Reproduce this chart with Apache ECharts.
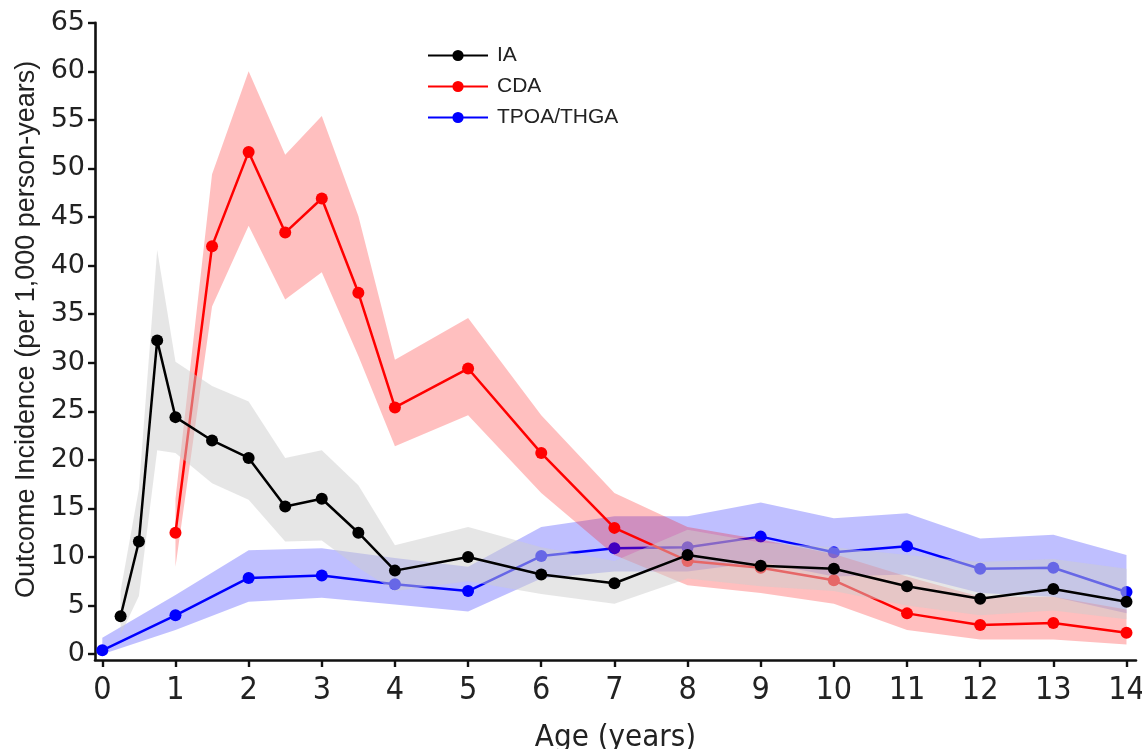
<!DOCTYPE html>
<html><head><meta charset="utf-8">
<script src="https://cdn.jsdelivr.net/npm/echarts@6/dist/echarts.min.js"></script>
<style>html,body{margin:0;padding:0;background:#fff}#c{width:1142px;height:749px}</style>
</head><body><div id="c"></div>
<script>
// ---- data ----
const iaAge  = [0.25,0.5,0.75,1,1.5,2,2.5,3,3.5,4,5,6,7,8,9,10,11,12,13,14];
const iaVal  = [3.9,11.6,32.3,24.4,22.0,20.2,15.2,16.0,12.5,8.6,10.0,8.2,7.3,10.2,9.1,8.8,7.0,5.7,6.7,5.4];
const iaLow  = [2.0,6.0,21.0,20.7,17.6,15.9,11.6,11.7,8.9,6.5,7.5,6.2,5.2,7.8,7.0,6.5,5.0,4.0,4.5,3.6];
const iaHigh = [6.5,17.0,41.6,30.1,27.6,26.0,20.2,21.0,17.4,11.2,13.1,11.0,9.6,12.8,11.5,11.0,10.2,9.5,9.8,8.8];

const cdaAge  = [1,1.5,2,2.5,3,3.5,4,5,6,7,8,9,10,11,12,13,14];
const cdaVal  = [12.5,42.0,51.7,43.4,46.9,37.2,25.4,29.4,20.7,13.0,9.6,8.9,7.6,4.2,3.0,3.2,2.2];
const cdaLow  = [9.0,35.8,44.1,36.5,39.3,30.7,21.4,24.6,16.6,10.2,7.1,6.3,5.2,2.5,1.5,1.5,1.0];
const cdaHigh = [16.0,49.4,60.0,51.4,55.4,45.1,30.3,34.6,24.6,16.6,13.1,11.8,10.3,8.0,5.9,5.9,4.6];

const tpAge  = [0,1,2,3,4,5,6,7,8,9,10,11,12,13,14];
const tpVal  = [0.4,4.0,7.85,8.1,7.2,6.5,10.1,10.9,11.0,12.1,10.5,11.1,8.8,8.9,6.4];
const tpLow  = [0.0,2.5,5.4,5.8,5.1,4.4,7.8,8.5,8.5,9.5,8.0,8.2,6.3,5.9,4.2];
const tpHigh = [1.7,6.1,10.7,10.9,9.9,9.0,13.1,14.2,14.2,15.6,14.0,14.5,11.9,12.3,10.2];

const xTicks = [0,1,2,3,4,5,6,7,8,9,10,11,12,13,14];
const yTicks = [0,5,10,15,20,25,30,35,40,45,50,55,60,65];
const seriesNames = ['IA','CDA','TPOA/THGA'];

// ---- helpers ----
function pts(xs, ys){ return xs.map((x,i)=>[x, ys[i]]); }
function bandData(xs, lo, hi){ return xs.map((x,i)=>[x, lo[i], hi[i]]); }
function band(name, xs, lo, hi, color, z){
  return {
    type:'custom', name:name, z:z, silent:true,
    data: bandData(xs, lo, hi),
    encode:{x:0, y:[1,2]},
    renderItem:function(params, api){
      if (params.dataIndex !== 0) return null;
      const upper = xs.map((x,i)=>api.coord([x, hi[i]]));
      const lower = xs.map((x,i)=>api.coord([x, lo[i]])).reverse();
      return {type:'polygon', shape:{points: upper.concat(lower)}, style:{fill:color}};
    }
  };
}
function line(name, xs, ys, color, z){
  return {
    type:'line', name:name, z:z, data: pts(xs, ys),
    symbol:'circle', symbolSize:12, showSymbol:true,
    lineStyle:{color:color, width:2.5},
    itemStyle:{color:color, borderWidth:0},
    emphasis:{disabled:true}, animation:false
  };
}

const axisFont = "'Liberation Sans', Arial, sans-serif";
const wideFont = "'DejaVu Sans', 'Liberation Sans', sans-serif";
const narrowFont = "'Liberation Sans Narrow', 'DejaVu Sans Condensed', 'Liberation Sans', sans-serif";

const chart = echarts.init(document.getElementById('c'), null, {renderer:'canvas'});
chart.setOption({
  animation:false,
  backgroundColor:'#ffffff',
  grid:{left:95, right:6, top:22.7, bottom:89, containLabel:false, outerBoundsMode:'none'},
  legend:{
    data: seriesNames, orient:'vertical', left:422, top:39,
    itemWidth:60, itemHeight:14, itemGap:8,
    textStyle:{fontFamily:axisFont, fontSize:21, color:'#222', padding:[0,0,0,4], lineHeight:23},
    selectedMode:false
  },
  xAxis:{
    type:'value', min:-0.1, max:14.13,
    name:'Age (years)', nameLocation:'middle', nameGap:62,
    nameTextStyle:{fontFamily:narrowFont, fontSize:31, color:'#222'},
    axisLine:{show:true, onZero:false, lineStyle:{color:'#111', width:2.6}},
    axisTick:{show:true, customValues:xTicks, length:7, lineStyle:{color:'#111', width:2.4}},
    axisLabel:{customValues:xTicks, margin:15, fontFamily:narrowFont, fontSize:32, color:'#222'},
    splitLine:{show:false}
  },
  yAxis:{
    type:'value', min:-0.6, max:65,
    name:'Outcome Incidence (per 1,000 person-years)', nameLocation:'middle', nameGap:54, nameRotate:90,
    nameTextStyle:{fontFamily:axisFont, fontSize:27, color:'#222', padding:[0,0,0,24]},
    axisLine:{show:true, onZero:false, lineStyle:{color:'#111', width:2.6}},
    axisTick:{show:true, customValues:yTicks, length:7, lineStyle:{color:'#111', width:2.4}},
    axisLabel:{customValues:yTicks, margin:10, fontFamily:wideFont, fontSize:27, color:'#222'},
    splitLine:{show:false}
  },
  series:[
    band('tpBand', tpAge, tpLow, tpHigh, 'rgba(0,0,255,0.25)', 1),
    line('TPOA/THGA', tpAge, tpVal, '#0000ff', 2),
    band('cdaBand', cdaAge, cdaLow, cdaHigh, 'rgba(255,0,0,0.25)', 3),
    line('CDA', cdaAge, cdaVal, '#ff0000', 4),
    band('iaBand', iaAge, iaLow, iaHigh, 'rgba(205,205,205,0.5)', 5),
    line('IA', iaAge, iaVal, '#000000', 6)
  ]
});
</script>
</body></html>
